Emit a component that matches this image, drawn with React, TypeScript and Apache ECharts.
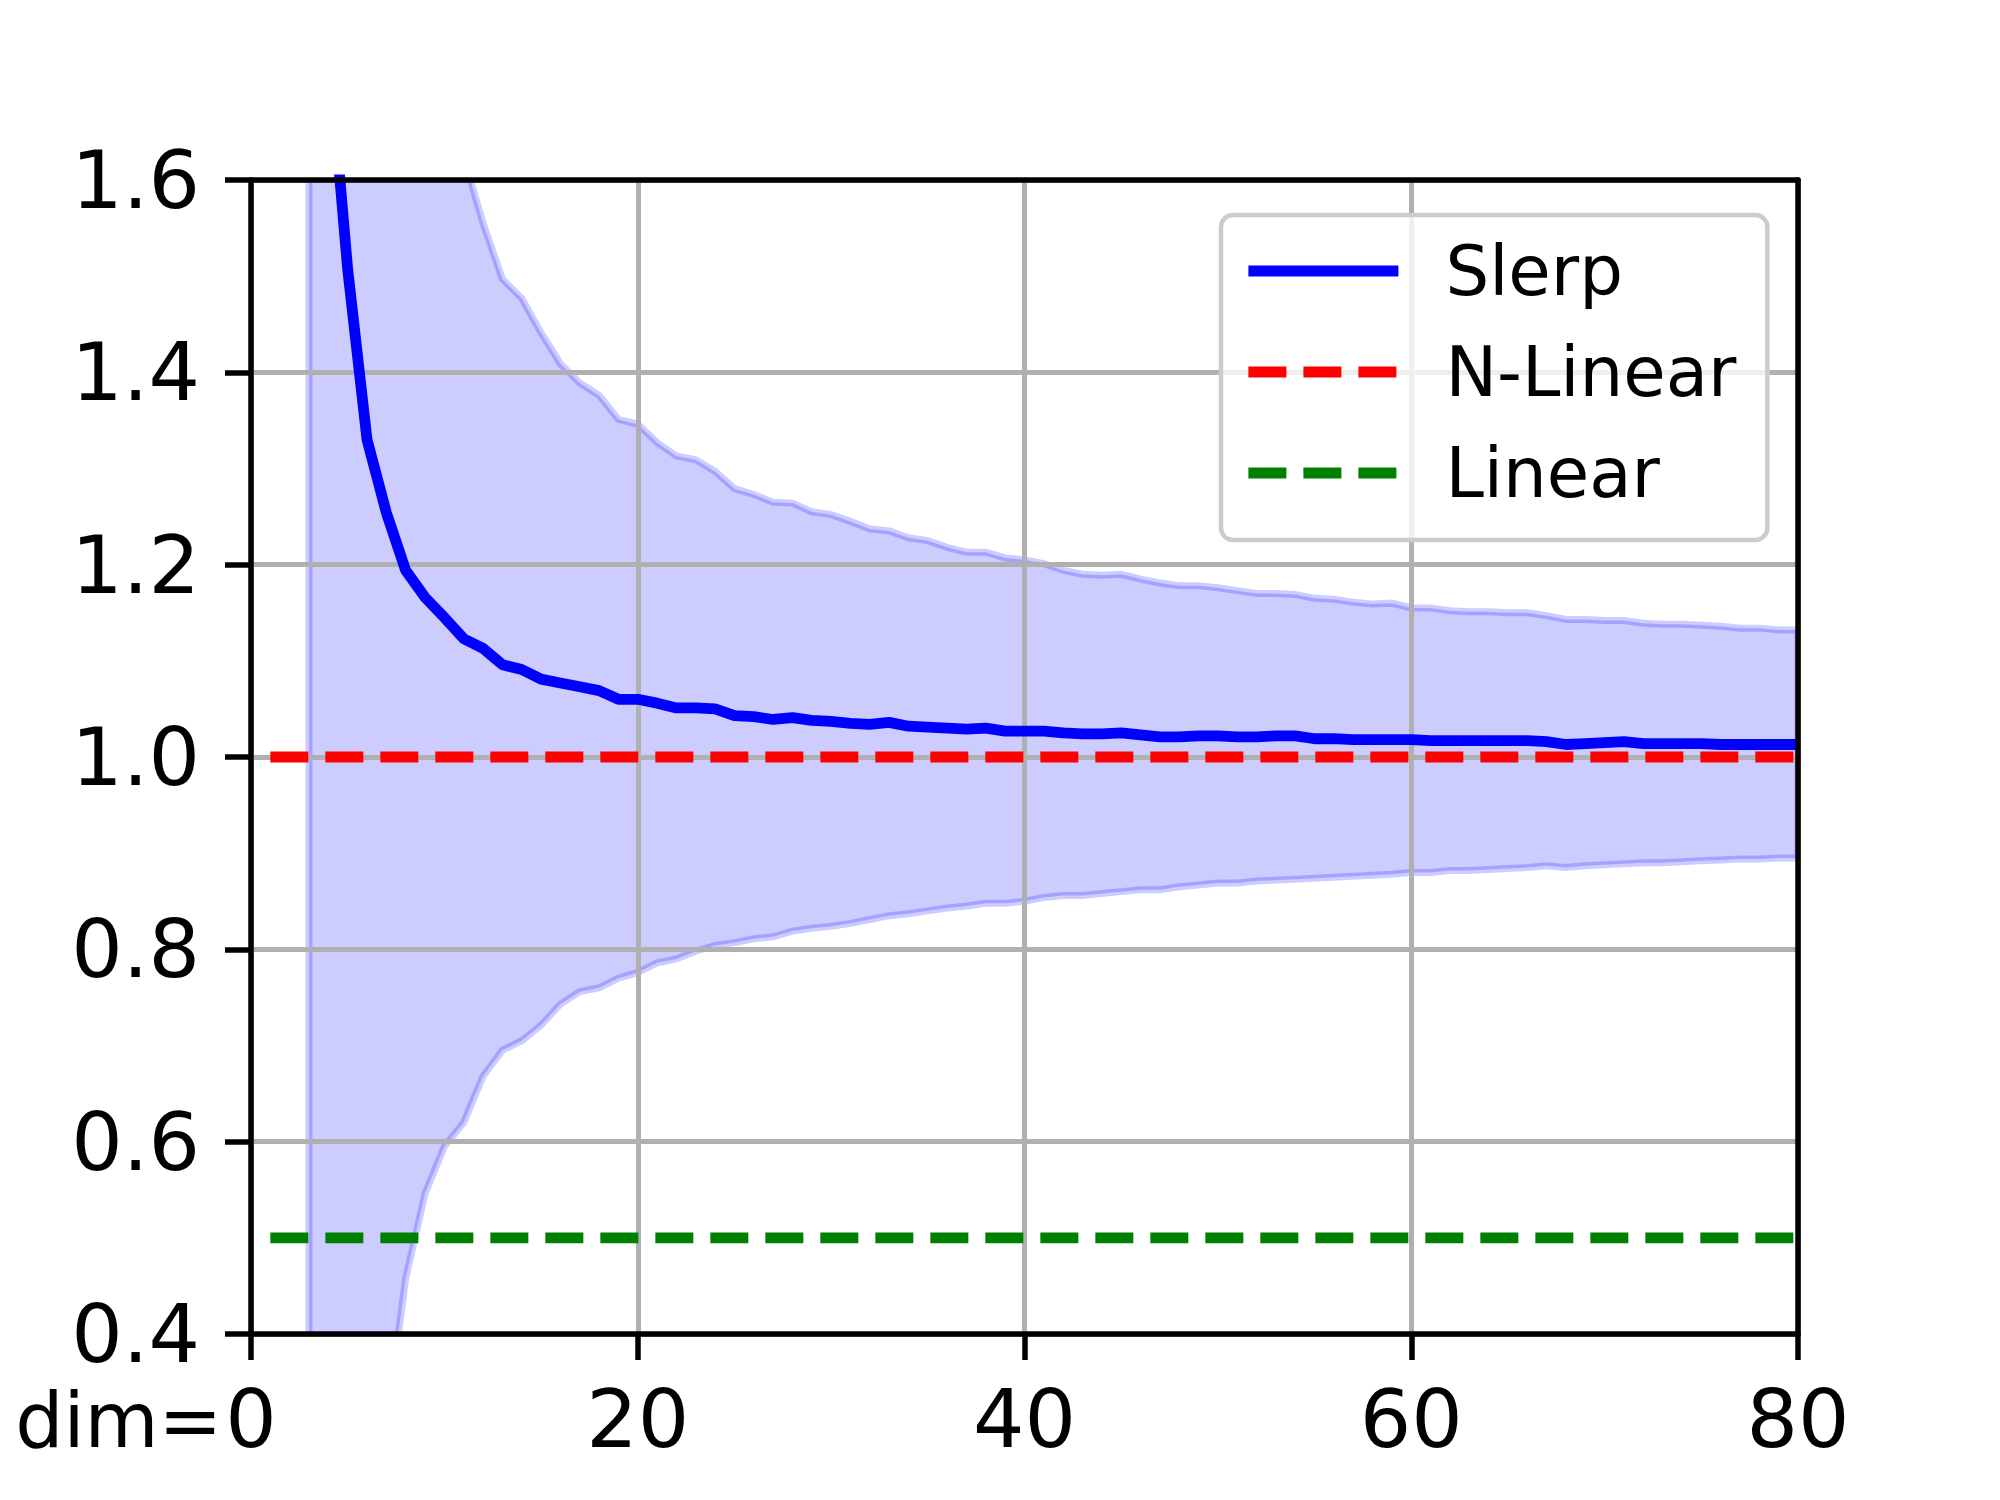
import React, { useEffect, useRef } from "react";
import * as echarts from "echarts";

// ---- data ----
const dims = [
  3, 4, 5, 6, 7, 8, 9, 10, 11, 12, 13, 14, 15, 16, 17, 18, 19, 20, 21, 22,
  23, 24, 25, 26, 27, 28, 29, 30, 31, 32, 33, 34, 35, 36, 37, 38, 39, 40, 41, 42,
  43, 44, 45, 46, 47, 48, 49, 50, 51, 52, 53, 54, 55, 56, 57, 58, 59, 60, 61, 62,
  63, 64, 65, 66, 67, 68, 69, 70, 71, 72, 73, 74, 75, 76, 77, 78, 79, 80,
];

const slerpMean = [
  2.3, 1.74, 1.507, 1.33, 1.254, 1.194, 1.166, 1.145, 1.123, 1.113, 1.096, 1.091, 1.081, 1.077, 1.073, 1.069, 1.06, 1.06, 1.056, 1.051,
  1.051, 1.05, 1.043, 1.042, 1.039, 1.041, 1.038, 1.037, 1.035, 1.034, 1.036, 1.032, 1.031, 1.03, 1.029, 1.03, 1.027, 1.027, 1.027, 1.025,
  1.024, 1.024, 1.025, 1.023, 1.021, 1.021, 1.022, 1.022, 1.021, 1.021, 1.022, 1.022, 1.019, 1.019, 1.018, 1.018, 1.018, 1.018, 1.017, 1.017,
  1.017, 1.017, 1.017, 1.017, 1.016, 1.013, 1.014, 1.015, 1.016, 1.014, 1.014, 1.014, 1.014, 1.013, 1.013, 1.013, 1.013, 1.013,
];

const bandUpper = [
  7.6, 4.68, 3.31, 2.56, 2.2, 1.93, 1.786, 1.695, 1.624, 1.555, 1.497, 1.477, 1.441, 1.409, 1.389, 1.376, 1.351, 1.346, 1.327, 1.313,
  1.309, 1.297, 1.279, 1.273, 1.265, 1.264, 1.255, 1.252, 1.245, 1.237, 1.235, 1.228, 1.225, 1.218, 1.213, 1.213, 1.207, 1.205, 1.201, 1.194,
  1.19, 1.189, 1.19, 1.185, 1.181, 1.178, 1.178, 1.176, 1.173, 1.17, 1.17, 1.169, 1.165, 1.164, 1.161, 1.159, 1.16, 1.155, 1.155, 1.152,
  1.151, 1.151, 1.15, 1.15, 1.147, 1.143, 1.143, 1.142, 1.142, 1.139, 1.138, 1.138, 1.137, 1.136, 1.134, 1.134, 1.132, 1.132,
];

const bandLower = [
  -3.0, -1.2, -0.3, 0.1, 0.305, 0.458, 0.546, 0.595, 0.62, 0.668, 0.695, 0.705, 0.721, 0.743, 0.756, 0.76, 0.77, 0.776, 0.786, 0.79,
  0.798, 0.804, 0.807, 0.811, 0.813, 0.819, 0.822, 0.824, 0.827, 0.831, 0.835, 0.837, 0.84, 0.843, 0.845, 0.848, 0.848, 0.85, 0.854, 0.856,
  0.856, 0.858, 0.86, 0.862, 0.862, 0.865, 0.867, 0.869, 0.869, 0.871, 0.872, 0.873, 0.874, 0.875, 0.876, 0.877, 0.878, 0.88, 0.88, 0.882,
  0.882, 0.883, 0.884, 0.885, 0.887, 0.885, 0.887, 0.888, 0.889, 0.89, 0.89, 0.891, 0.892, 0.893, 0.894, 0.894, 0.895, 0.895,
];

const nLinearDims = [1, 80];
const nLinearValues = [1.0, 1.0];
const linearDims = [1, 80];
const linearValues = [0.5, 0.5];

const xTicks = [0, 20, 40, 60, 80];
const yTicks = [0.4, 0.6, 0.8, 1.0, 1.2, 1.4, 1.6];
const legendNames = ["Slerp", "N-Linear", "Linear"];
const xPrefix = "dim=";

// ---- styles ----
const FONT = "DejaVu Sans";
const TICK_FONT = 81;
const PREFIX_FONT = 76;
const X_LABEL_MARGIN = 44;
const LINE_W = 10.8;
const SPINE_W = 5.5;
const GRID_W = 5;

export default function App() {
  const ref = useRef<HTMLDivElement>(null);

  useEffect(() => {
    if (!ref.current) return;
    const chart = echarts.init(ref.current, undefined, { renderer: "svg" });

    const bandData = dims.map((d, i) => [d, bandLower[i], bandUpper[i]]);
    const slerpData = dims.map((d, i) => [d, slerpMean[i]]);
    const nLinearData = nLinearDims.map((d, i) => [d, nLinearValues[i]]);
    const linearData = linearDims.map((d, i) => [d, linearValues[i]]);

    const xMin = xTicks[0];
    const xMax = xTicks[xTicks.length - 1];
    const xInt = xTicks[1] - xTicks[0];
    const yMin = yTicks[0];
    const yMax = yTicks[yTicks.length - 1];
    const yInt = Math.round((yTicks[1] - yTicks[0]) * 10) / 10;

    const option: any = {
      animation: false,
      backgroundColor: "#ffffff",
      grid: { left: 251, right: 202, top: 180, bottom: 166, containLabel: false },
      xAxis: [
        {
          type: "value",
          min: xMin,
          max: xMax,
          interval: xInt,
          z: 1,
          axisLine: { show: true, onZero: false, lineStyle: { color: "#000", width: SPINE_W } },
          axisTick: { show: true, length: 26, lineStyle: { color: "#000", width: SPINE_W } },
          axisLabel: {
            margin: X_LABEL_MARGIN,
            fontSize: TICK_FONT,
            fontFamily: FONT,
            color: "#000",
            formatter: (v: number) => String(v),
          },
          splitLine: { show: true, lineStyle: { color: "#b0b0b0", width: GRID_W } },
        },
        {
          type: "value",
          position: "top",
          min: xMin,
          max: xMax,
          interval: xInt,
          z: 6,
          axisLine: { show: true, onZero: false, lineStyle: { color: "#000", width: SPINE_W } },
          axisTick: { show: false },
          axisLabel: { show: false },
          splitLine: { show: false },
        },
      ],
      yAxis: [
        {
          type: "value",
          min: yMin,
          max: yMax,
          interval: yInt,
          z: 1,
          axisLine: { show: true, onZero: false, lineStyle: { color: "#000", width: SPINE_W } },
          axisTick: { show: true, length: 26, lineStyle: { color: "#000", width: SPINE_W } },
          axisLabel: {
            margin: 51,
            fontSize: TICK_FONT,
            fontFamily: FONT,
            color: "#000",
            formatter: (v: number) => v.toFixed(1),
          },
          splitLine: { show: true, lineStyle: { color: "#b0b0b0", width: GRID_W } },
        },
        {
          type: "value",
          position: "right",
          min: yMin,
          max: yMax,
          interval: yInt,
          z: 6,
          axisLine: { show: true, onZero: false, lineStyle: { color: "#000", width: SPINE_W } },
          axisTick: { show: false },
          axisLabel: { show: false },
          splitLine: { show: false },
        },
      ],
      legend: {
        orient: "vertical",
        left: 1221,
        top: 215,
        data: legendNames,
        itemWidth: 150,
        itemHeight: 30,
        itemGap: 23,
        padding: [17, 31, 28, 22],
        backgroundColor: "rgba(255,255,255,0.8)",
        borderColor: "#cccccc",
        borderWidth: 4.5,
        borderRadius: 12,
        selectedMode: false,
        textStyle: {
          fontSize: 69,
          fontFamily: FONT,
          color: "#000",
          lineHeight: 78,
          padding: [0, 0, 0, 42],
        },
        itemStyle: {
          color: "rgba(0,0,0,0)",
          borderColor: "rgba(0,0,0,0)",
          borderWidth: 0,
        },
        lineStyle: { width: LINE_W },
      },
      series: [
        {
          type: "custom",
          name: "band",
          z: 0,
          clip: true,
          silent: true,
          data: bandData,
          encode: { x: 0, y: [1, 2] },
          renderItem: (params: any, api: any) => {
            if (params.dataIndex !== 0) return null;
            const top = dims.map((d, i) => api.coord([d, bandUpper[i]]));
            const bottom = dims.map((d, i) => api.coord([d, bandLower[i]])).reverse();
            return {
              type: "polygon",
              shape: { points: top.concat(bottom) },
              style: {
                fill: "rgba(0,0,255,0.2)",
                stroke: "rgba(0,0,255,0.2)",
                lineWidth: 7,
              },
            };
          },
        },
        {
          type: "line",
          name: legendNames[0],
          z: 3,
          data: slerpData,
          symbol: "none",
          showSymbol: false,
          clip: true,
          itemStyle: { color: "#0000ff" },
          lineStyle: { color: "#0000ff", width: LINE_W },
        },
        {
          type: "line",
          name: legendNames[1],
          z: 3,
          data: nLinearData,
          symbol: "none",
          showSymbol: false,
          itemStyle: { color: "#ff0000" },
          lineStyle: { color: "#ff0000", width: LINE_W, type: [38, 17] },
        },
        {
          type: "line",
          name: legendNames[2],
          z: 3,
          data: linearData,
          symbol: "none",
          showSymbol: false,
          itemStyle: { color: "#008000" },
          lineStyle: { color: "#008000", width: LINE_W, type: [38, 17] },
        },
      ],
    };

    chart.setOption(option);

    // "dim=" prefix placed directly left of the "0" tick label
    const p = chart.convertToPixel({ xAxisIndex: 0, yAxisIndex: 0 }, [xMin, yMin]) as number[];
    const halfZero = 0.318 * TICK_FONT;
    chart.setOption({
      graphic: [
        {
          type: "text",
          x: p[0] - halfZero - 3,
          y: p[1] + X_LABEL_MARGIN + 2,
          z: 10,
          style: {
            text: xPrefix,
            fontSize: PREFIX_FONT,
            fontFamily: FONT,
            lineHeight: TICK_FONT,
            fill: "#000",
            align: "right",
            verticalAlign: "top",
            textAlign: "right",
            textVerticalAlign: "top",
          },
        },
      ],
    });

    return () => {
      chart.dispose();
    };
  }, []);

  return (
    <div
      ref={ref}
      style={{ position: "absolute", left: 0, top: 0, width: 2000, height: 1500, background: "#fff" }}
    />
  );
}
